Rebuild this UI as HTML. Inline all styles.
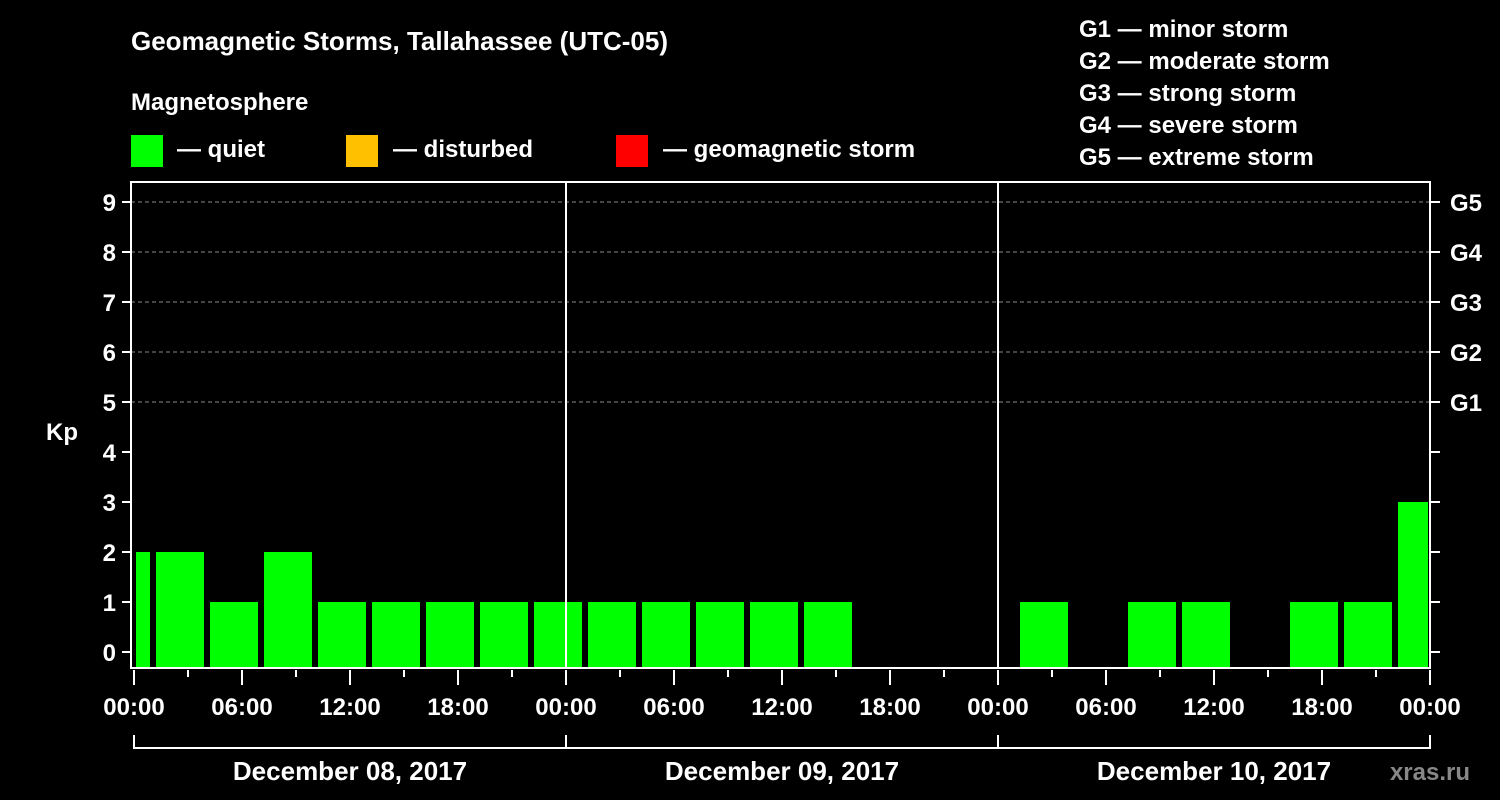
<!DOCTYPE html>
<html><head><meta charset="utf-8"><style>
html,body{margin:0;padding:0;background:#000;width:1500px;height:800px;overflow:hidden}
svg text{font-family:"Liberation Sans",Arial,sans-serif;font-weight:bold;fill:#fff}
</style></head><body>
<svg id="chart" width="1500" height="800" viewBox="0 0 1500 800">
<text x="131" y="50" font-size="26">Geomagnetic Storms, Tallahassee (UTC-05)</text>
<text x="131" y="110" font-size="24">Magnetosphere</text>
<g><rect x="131" y="135" width="32" height="32" fill="#00ff00"/><text x="177" y="157" font-size="24">— quiet</text></g>
<g><rect x="346" y="135" width="32" height="32" fill="#ffc000"/><text x="393" y="157" font-size="24">— disturbed</text></g>
<g><rect x="616" y="135" width="32" height="32" fill="#ff0000"/><text x="663" y="157" font-size="24">— geomagnetic storm</text></g>
<g font-size="24">
<text x="1079" y="37">G1 — minor storm</text>
<text x="1079" y="69">G2 — moderate storm</text>
<text x="1079" y="101">G3 — strong storm</text>
<text x="1079" y="133">G4 — severe storm</text>
<text x="1079" y="165">G5 — extreme storm</text>
</g>
<text x="62" y="440" font-size="24" text-anchor="middle">Kp</text>
<text x="1470" y="780" font-size="24" text-anchor="end" style="fill:#888">xras.ru</text>
<g id="grid"></g><g id="bars"></g><g id="axes"></g>
</svg>
<script>
const kpValues = [2,2,1,2,1,1,1,1,1,1,1,1,1,1,null,null,null,1,null,1,1,null,1,1,3];
const yTicks = [0,1,2,3,4,5,6,7,8,9];
const gLabels = ["G1","G2","G3","G4","G5"];
const gLevels = [5,6,7,8,9];
const dayLabels = ["December 08, 2017","December 09, 2017","December 10, 2017"];
const hourLabels = ["00:00","06:00","12:00","18:00"];
const slotOffsetHours = -2; // first slot starts at 22:00 previous day (local)
const NS="http://www.w3.org/2000/svg";
const X0=134, PXH=18, HOURS=72, XEND=X0+PXH*HOURS, YTOP=182, YBOT=668;
const x = h => X0 + h*PXH;
const y = v => 652 - v*50;
function mk(tag, attrs, parent){const e=document.createElementNS(NS,tag);for(const k in attrs)e.setAttribute(k,attrs[k]);parent.appendChild(e);return e;}
const grid=document.getElementById('grid'), bars=document.getElementById('bars'), axes=document.getElementById('axes');
gLevels.forEach(v=>{const l=mk('line',{x1:131,x2:XEND,y1:y(v),y2:y(v),stroke:'#888','stroke-dasharray':'4,3','stroke-width':1},grid);

});
kpValues.forEach((v,i)=>{ if(v===null) return;
  let h0=slotOffsetHours+i*3; let x1=x(h0)+4, x2=x(h0+3)-2;
  x1=Math.max(x1,136); x2=Math.min(x2,XEND-2);
  const c = v>=5?'#ff0000':(v>=4?'#ffc000':'#00ff00');
  const r=mk('rect',{x:x1,y:y(v),width:x2-x1,height:YBOT-1-y(v),fill:c},bars);
  
  
});
// frame
const fr=mk('rect',{x:131,y:YTOP,width:XEND-131,height:YBOT-YTOP,fill:'none',stroke:'#fff','stroke-width':2},axes);


for(let d=1;d<3;d++){const l=mk('line',{x1:x(d*24),x2:x(d*24),y1:YTOP,y2:YBOT,stroke:'#fff','stroke-width':2},axes);

}
yTicks.forEach(v=>{
  mk('line',{x1:122,x2:131,y1:y(v),y2:y(v),stroke:'#fff','stroke-width':2},axes);
  mk('line',{x1:XEND,x2:XEND+10,y1:y(v),y2:y(v),stroke:'#fff','stroke-width':2},axes);
  const t=mk('text',{x:116,y:y(v)+9,'font-size':24,'text-anchor':'end'},axes);t.textContent=v;
  
  
});
gLevels.forEach((v,i)=>{const t=mk('text',{x:1450,y:y(v)+9,'font-size':24},axes);t.textContent=gLabels[i];

});
for(let h=0;h<=HOURS;h+=3){const major=h%6===0;
  mk('line',{x1:x(h),x2:x(h),y1:670,y2:major?685:677,stroke:'#fff','stroke-width':2},axes);
  if(major){const t=mk('text',{x:x(h),y:715,'font-size':24,'text-anchor':'middle'},axes);t.textContent=hourLabels[(h/6)%4];
  
  }
}
mk('line',{x1:X0,x2:XEND,y1:748,y2:748,stroke:'#fff','stroke-width':2},axes);
for(let d=0;d<=3;d++) mk('line',{x1:x(d*24),x2:x(d*24),y1:735,y2:749,stroke:'#fff','stroke-width':2},axes);
dayLabels.forEach((s,d)=>{const t=mk('text',{x:x(d*24+12),y:780,'font-size':26,'text-anchor':'middle'},axes);t.textContent=s;

});
</script>
</body></html>
